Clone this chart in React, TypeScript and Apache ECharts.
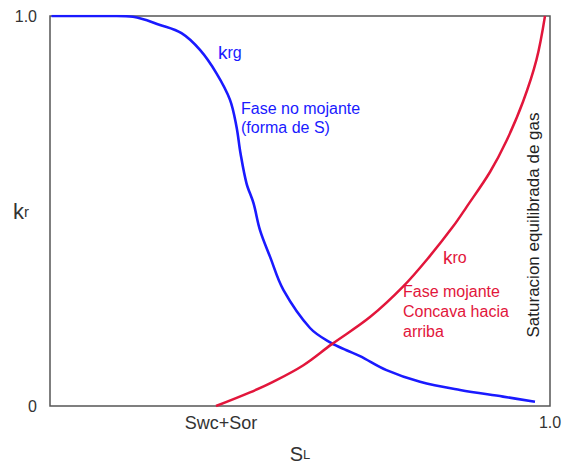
import React, { useEffect, useRef } from "react";
import * as echarts from "echarts";

const krgX = [0.003, 0.133, 0.166, 0.22, 0.263, 0.3, 0.333, 0.36, 0.373, 0.381, 0.393, 0.407, 0.42, 0.44, 0.467, 0.52, 0.563, 0.593, 0.62, 0.673, 0.74, 0.82, 0.906, 0.97];
const krgY = [1.0, 1.0, 0.998, 0.977, 0.956, 0.913, 0.853, 0.785, 0.716, 0.648, 0.571, 0.52, 0.451, 0.383, 0.297, 0.2, 0.161, 0.143, 0.128, 0.092, 0.062, 0.041, 0.024, 0.011];

const kroX = [0.332, 0.4, 0.446, 0.506, 0.563, 0.64, 0.706, 0.76, 0.806, 0.833, 0.88, 0.913, 0.946, 0.973, 0.99];
const kroY = [0, 0.035, 0.062, 0.104, 0.158, 0.228, 0.306, 0.385, 0.46, 0.51, 0.6, 0.68, 0.78, 0.888, 1.0];

const xTickValues = [0.342, 1];
const xTickLabels = ["{a|Swc+Sor}", "{b|1.0}"];
const yTickValues = [0, 1];
const yTickLabels = ["0", "1.0"];

const BLUE = "#1a1aff";
const RED = "#e2163b";
const FONT = "'Liberation Sans', Arial, sans-serif";

export default function App() {
  const ref = useRef<HTMLDivElement>(null);
  useEffect(() => {
    document.body.style.margin = "0";
    const chart = echarts.init(ref.current!, undefined, { renderer: "svg" });
    const pair = (xs: number[], ys: number[]) => xs.map((x, i) => [x, ys[i]]);
    chart.setOption({
      animation: false,
      textStyle: { fontFamily: FONT },
      grid: {
        left: 50,
        top: 16,
        width: 500,
        height: 390,
        containLabel: false,
        outerBoundsMode: "none",
        show: true,
        borderColor: "#555",
        borderWidth: 1.5,
        backgroundColor: "transparent",
      },
      xAxis: {
        type: "value",
        min: 0,
        max: 1,
        splitLine: { show: false },
        axisLine: { show: false },
        axisTick: { show: false },
        name: "{s|S}{l|L}",
        nameLocation: "middle",
        nameGap: 38,
        nameMoveOverlap: false,
        nameTextStyle: {
          lineHeight: 20,
          rich: {
            s: { fontSize: 20, lineHeight: 20, color: "#333", fontFamily: FONT },
            l: { fontSize: 13, lineHeight: 20, color: "#333", fontFamily: FONT },
          },
        },
        axisLabel: {
          customValues: xTickValues,
          margin: 8,
          formatter: (v: number) => {
            const i = xTickValues.findIndex((t) => Math.abs(t - v) < 1e-6);
            return i >= 0 ? xTickLabels[i] : "";
          },
          rich: {
            a: { fontSize: 18, color: "#333", fontFamily: FONT },
            b: { fontSize: 16, color: "#333", fontFamily: FONT },
          },
        },
      },
      yAxis: {
        type: "value",
        min: 0,
        max: 1,
        splitLine: { show: false },
        axisLine: { show: false },
        axisTick: { show: false },
        name: "{k|k}{r|r}",
        nameLocation: "middle",
        nameRotate: 0,
        nameGap: 21,
        nameMoveOverlap: false,
        nameTextStyle: {
          rich: {
            k: { fontSize: 22, color: "#333", fontFamily: FONT },
            r: { fontSize: 15, color: "#333", fontFamily: FONT },
          },
        },
        axisLabel: {
          customValues: yTickValues,
          margin: 13,
          fontSize: 16,
          color: "#333",
          formatter: (v: number) => {
            const i = yTickValues.findIndex((t) => Math.abs(t - v) < 1e-6);
            return i >= 0 ? yTickLabels[i] : "";
          },
        },
      },
      series: [
        {
          type: "line",
          name: "krg",
          data: pair(krgX, krgY),
          smooth: 0.35,
          showSymbol: false,
          lineStyle: { color: BLUE, width: 2.6 },
        },
        {
          type: "line",
          name: "kro",
          data: pair(kroX, kroY),
          smooth: 0.35,
          showSymbol: false,
          lineStyle: { color: RED, width: 2.5 },
        },
      ],
      graphic: [
        {
          type: "text",
          x: 218,
          y: 52,
          style: {
            text: "{k|k}{s|rg}",
            fill: BLUE,
            verticalAlign: "middle",
            rich: {
              k: { fontSize: 19, fill: BLUE, fontFamily: FONT },
              s: { fontSize: 16, fill: BLUE, fontFamily: FONT },
            },
          },
        },
        {
          type: "text",
          x: 241,
          y: 98.5,
          style: {
            text: "Fase no mojante\n(forma de S)",
            fill: BLUE,
            font: `16px ${FONT}`,
            lineHeight: 19,
            verticalAlign: "top",
          },
        },
        {
          type: "text",
          x: 443,
          y: 257,
          style: {
            text: "{k|k}{s|ro}",
            fill: RED,
            verticalAlign: "middle",
            rich: {
              k: { fontSize: 19, fill: RED, fontFamily: FONT },
              s: { fontSize: 16, fill: RED, fontFamily: FONT },
            },
          },
        },
        {
          type: "text",
          x: 403,
          y: 281,
          style: {
            text: "Fase mojante\nConcava hacia\narriba",
            fill: RED,
            font: `16px ${FONT}`,
            lineHeight: 20,
            verticalAlign: "top",
          },
        },
        {
          type: "text",
          x: 533,
          y: 225,
          rotation: Math.PI / 2,
          style: {
            text: "Saturacion equilibrada de gas",
            fill: "#222",
            font: `17px ${FONT}`,
            align: "center",
            verticalAlign: "middle",
          },
        },
      ],
    });
    return () => chart.dispose();
  }, []);
  return <div ref={ref} style={{ width: 564, height: 465 }} />;
}
